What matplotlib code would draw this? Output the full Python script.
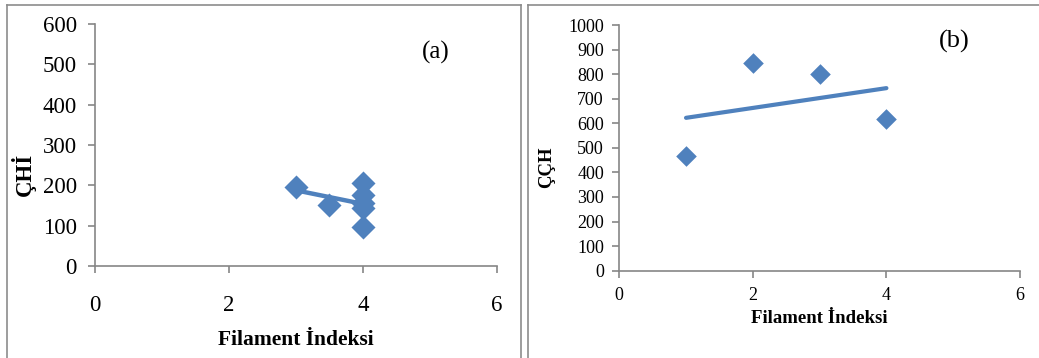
import matplotlib
matplotlib.use("Agg")
import matplotlib.pyplot as plt
from matplotlib.lines import Line2D
import numpy as np

BLUE = "#4F81BD"
AXIS = "#868686"
FRAME = "#8C8C8C"
SERIF = ["Liberation Serif", "DejaVu Serif"]

# panel (a): ÇHİ vs filament index
fil_a = [3, 3.5, 4, 4, 4, 4, 4]
chi_a = [197, 152, 206, 176, 157, 143, 97]

# panel (b): ÇÇH vs filament index
fil_b = [1, 2, 3, 4]
cch_b = [467, 847, 800, 617]

xticks = [0, 2, 4, 6]
yticks_a = [0, 100, 200, 300, 400, 500, 600]
yticks_b = list(range(0, 1001, 100))

plt.rcParams["font.family"] = SERIF

fig = plt.figure(figsize=(10.39, 3.58), dpi=100)

# panel frames
fig.add_artist(Line2D([0.0067, 0.0067], [0, 0.986], color=FRAME, lw=1.2))
fig.add_artist(Line2D([0.0067, 0.5015], [0.986, 0.986], color=FRAME, lw=1.2))
fig.add_artist(Line2D([0.5015, 0.5015], [0, 0.986], color=FRAME, lw=1.2))
fig.add_artist(Line2D([0.508, 0.508], [0, 0.986], color=FRAME, lw=1.2))
fig.add_artist(Line2D([0.508, 1.0], [0.986, 0.986], color=FRAME, lw=1.2))


def style(ax, fs, xpad, ypad):
    for s in ("top", "right"):
        ax.spines[s].set_visible(False)
    for s in ("left", "bottom"):
        ax.spines[s].set_color(AXIS)
        ax.spines[s].set_linewidth(1.2)
    ax.tick_params(axis="x", direction="out", length=5, width=1.2,
                   color=AXIS, labelsize=fs, pad=xpad)
    ax.tick_params(axis="y", direction="out", length=5, width=1.2,
                   color=AXIS, labelsize=fs, pad=ypad)


def trend(ax, x, y, lw):
    k, b = np.polyfit(x, y, 1)
    xs = np.array([min(x), max(x)])
    ax.plot(xs, k * xs + b, color=BLUE, lw=lw, solid_capstyle="round",
            zorder=2)


# ---------------------------------------------------------------- (a)
ax1 = fig.add_axes([0.0914, 0.257, 0.3869, 0.676])
ax1.scatter(fil_a, chi_a, marker="D", s=150, color=BLUE, zorder=3,
            linewidths=0)
trend(ax1, fil_a, chi_a, 3.2)
ax1.set_xlim(0, 6)
ax1.set_ylim(0, 600)
ax1.set_xticks(xticks)
ax1.set_yticks(yticks_a)
style(ax1, 16.5, 16, 8)
ax1.set_xlabel("Filament İndeksi", fontsize=15.5, fontweight="bold",
               labelpad=10)
ax1.set_ylabel("ÇHİ", fontsize=16.5, fontweight="bold")
ax1.yaxis.set_label_coords(-0.147, 0.38)
ax1.text(5.09, 530, "(a)", fontsize=18, ha="center", va="center")

# ---------------------------------------------------------------- (b)
ax2 = fig.add_axes([0.596, 0.2439, 0.3857, 0.6861])
ax2.scatter(fil_b, cch_b, marker="D", s=110, color=BLUE, zorder=3,
            linewidths=0)
trend(ax2, fil_b, cch_b, 3.0)
ax2.set_xlim(0, 6)
ax2.set_ylim(0, 1000)
ax2.set_xticks(xticks)
ax2.set_yticks(yticks_b)
style(ax2, 13, 7, 6)
ax2.set_xlabel("Filament İndeksi", fontsize=13.5, fontweight="bold",
               labelpad=4)
ax2.set_ylabel("ÇÇH", fontsize=13.5, fontweight="bold")
ax2.yaxis.set_label_coords(-0.16, 0.422)
ax2.text(5.02, 935, "(b)", fontsize=19, ha="center", va="center")

fig.savefig("out.png", dpi=100, facecolor="white")
